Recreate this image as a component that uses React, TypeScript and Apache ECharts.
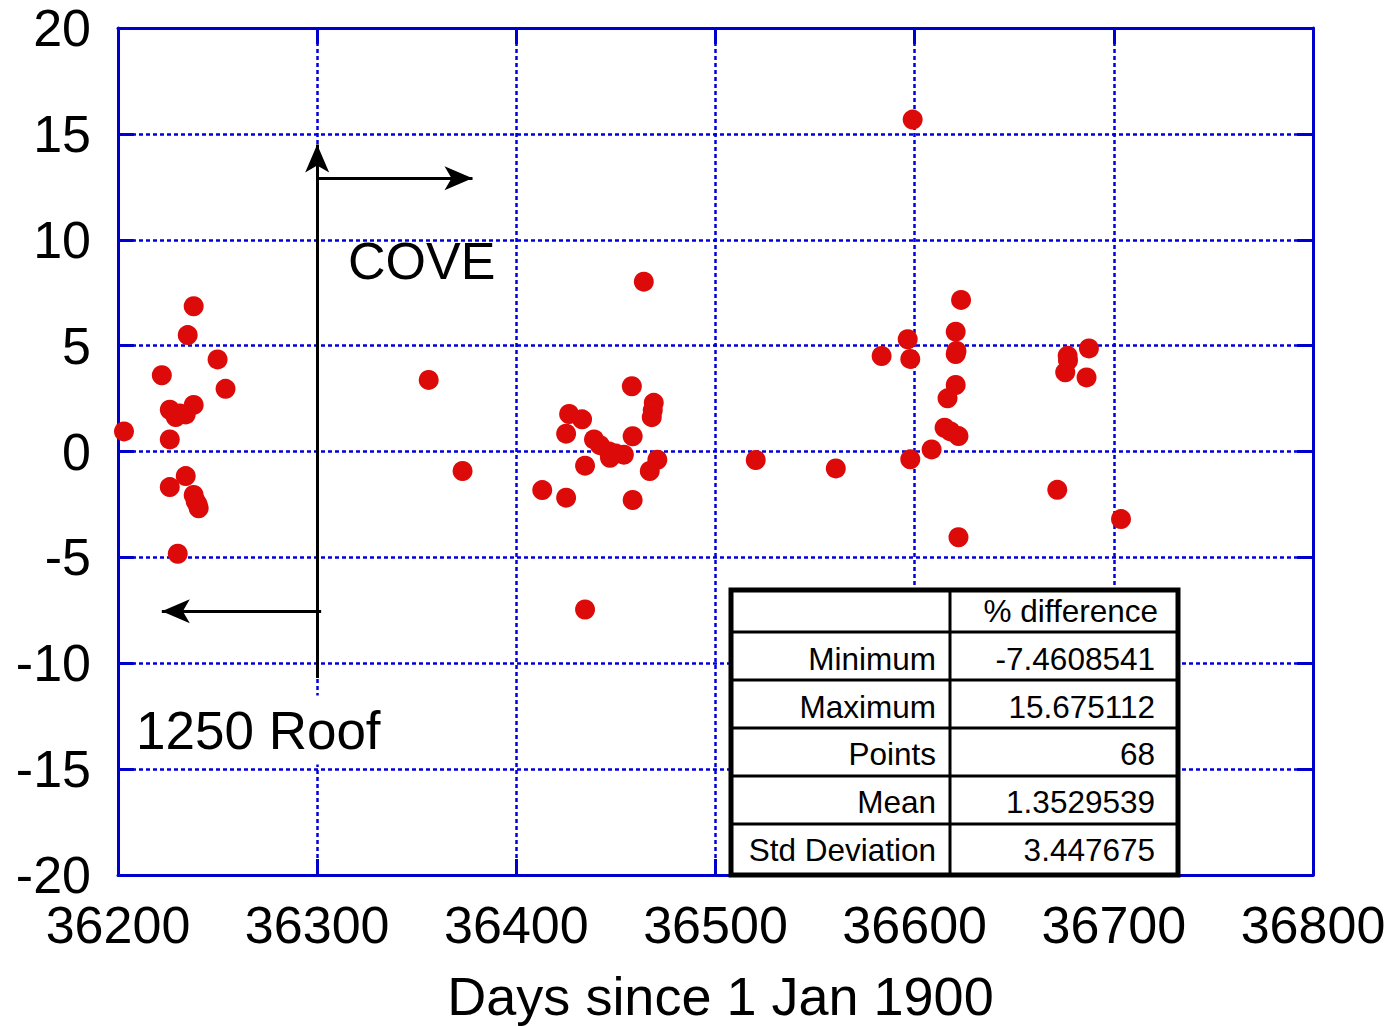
import React, { useEffect, useRef } from "react";
import * as echarts from "echarts";

// Days since 1 Jan 1900 and % difference for each measurement
const days: number[] = [
  36203, 36238, 36235, 36250, 36222, 36254, 36238, 36226, 36229, 36234, 36231,
  36226, 36234, 36226, 36238, 36239, 36240.5, 36240, 36230,
  36464, 36356, 36373, 36458, 36469, 36468.5, 36468, 36426.5, 36433, 36425,
  36439, 36442, 36446.5, 36447, 36454, 36450, 36458.4, 36434.5, 36470.8, 36467,
  36413, 36425, 36458.4, 36434.5,
  36599, 36623.3, 36620.6, 36596.5, 36620.6, 36583.4, 36597.8, 36620.6, 36616.5,
  36615, 36618, 36622, 36608.5, 36520.2, 36560.4, 36597.8, 36622, 36621,
  36687.5, 36676.8, 36675.6, 36686.3, 36671.6, 36703.6, 36677,
];
const pctDiff: number[] = [
  0.95, 6.86, 5.5, 4.35, 3.6, 2.96, 2.2, 1.97, 1.63, 1.75, 1.8,
  0.57, -1.16, -1.68, -2.05, -2.35, -2.68, -2.5, -4.83,
  8.02, 3.38, -0.92, 3.08, 2.3, 1.95, 1.62, 1.77, 1.52, 0.84,
  0.57, 0.3, 0.0, -0.3, -0.15, -0.1, 0.72, -0.67, -0.39, -0.92,
  -1.82, -2.18, -2.29, -7.4608541,
  15.675112, 7.16, 5.66, 5.3, 4.6, 4.51, 4.37, 3.14, 2.51,
  1.12, 0.95, 0.73, 0.1, -0.4, -0.8, -0.37, -4.05, 4.75,
  4.87, 4.52, 3.74, 3.5, -1.81, -3.19, 4.3,
];

const xMin = 36200;
const xMax = 36800;
const xStep = 100;
const yMin = -20;
const yMax = 20;
const yStep = 5;

const xAxisTitle = "Days since 1 Jan 1900";
const statHeader = "% difference";
const statLabels = ["Minimum", "Maximum", "Points", "Mean", "Std Deviation"];
const statValues = ["-7.4608541", "15.675112", "68", "1.3529539", "3.447675"];

// annotation arrows in data coordinates: [x1, y1, x2, y2]
const coveVertical = [36300, -10.7, 36300, 14.5];
const coveArrow = [36300, 12.9, 36378, 12.9];
const roofArrow = [36302, -7.55, 36222, -7.55];

const FONT = '"Liberation Sans", Arial, sans-serif';
const AXIS_BLUE = "#0000cc";
const GRID_BLUE = "#0000dd";

export default function App() {
  const ref = useRef<HTMLDivElement>(null);

  useEffect(() => {
    if (!ref.current) return;
    const chart = echarts.init(ref.current, undefined, { renderer: "svg" });

    const points = days.map((d, i) => [d, pctDiff[i]]);

    const arrowLine = (a: number[], startSym: string, endSym: string) => [
      { coord: [a[0], a[1]], symbol: startSym },
      { coord: [a[2], a[3]], symbol: endSym },
    ];

    // table geometry
    const tL = 731, tR = 1178, tT = 590, tB = 875, tDiv = 950;
    const rowLines = [632, 680, 728, 776, 824];
    const rowCenters = [611, 659, 707, 754, 802, 850];
    const tFont = `31.5px ${FONT}`;
    const tableEls: any[] = [
      {
        type: "rect",
        shape: { x: tL, y: tT, width: tR - tL, height: tB - tT },
        style: { fill: "#ffffff", stroke: "#000000", lineWidth: 5 },
        z: 100,
      },
      {
        type: "line",
        shape: { x1: tDiv, y1: tT, x2: tDiv, y2: tB },
        style: { stroke: "#000000", lineWidth: 3 },
        z: 101,
      },
      ...rowLines.map((y) => ({
        type: "line",
        shape: { x1: tL, y1: y, x2: tR, y2: y },
        style: { stroke: "#000000", lineWidth: 3 },
        z: 101,
      })),
      {
        type: "text",
        style: {
          text: statHeader,
          x: 1158,
          y: rowCenters[0],
          font: tFont,
          fill: "#000",
          textAlign: "right",
          textVerticalAlign: "middle",
        },
        z: 102,
      },
      ...statLabels.map((t, i) => ({
        type: "text",
        style: {
          text: t,
          x: 936,
          y: rowCenters[i + 1],
          font: tFont,
          fill: "#000",
          textAlign: "right",
          textVerticalAlign: "middle",
        },
        z: 102,
      })),
      ...statValues.map((t, i) => ({
        type: "text",
        style: {
          text: t,
          x: 1155,
          y: rowCenters[i + 1],
          font: tFont,
          fill: "#000",
          textAlign: "right",
          textVerticalAlign: "middle",
        },
        z: 102,
      })),
    ];

    const axisCommon = {
      axisLine: { show: true, onZero: false, lineStyle: { color: AXIS_BLUE, width: 3 } },
      axisTick: { show: true, inside: true, length: 16, lineStyle: { color: AXIS_BLUE, width: 3 } },
    };

    chart.setOption({
      animation: false,
      backgroundColor: "#ffffff",
      grid: {
        left: 118,
        top: 28,
        width: 1195,
        height: 847,
        containLabel: false,
        outerBoundsMode: "none",
      },
      xAxis: [
        {
          ...axisCommon,
          type: "value",
          position: "bottom",
          min: xMin,
          max: xMax,
          interval: xStep,
          name: xAxisTitle,
          nameLocation: "middle",
          nameGap: 94,
          nameTextStyle: { fontSize: 54, fontFamily: FONT, color: "#000", padding: [0, 0, 0, 10] },
          axisLabel: {
            fontSize: 52,
            fontFamily: FONT,
            color: "#000",
            margin: 31,
            lineHeight: 38,
            formatter: (v: number) => String(v),
          },
          splitLine: { show: true, lineStyle: { color: GRID_BLUE, width: 2.5, type: [4, 3] } },
        },
        {
          ...axisCommon,
          type: "value",
          position: "top",
          min: xMin,
          max: xMax,
          interval: xStep,
          axisLabel: { show: false },
          splitLine: { show: false },
        },
      ],
      yAxis: [
        {
          ...axisCommon,
          type: "value",
          position: "left",
          min: yMin,
          max: yMax,
          interval: yStep,
          axisLabel: {
            fontSize: 52,
            fontFamily: FONT,
            color: "#000",
            margin: 27,
            lineHeight: 36,
            formatter: (v: number) => String(v),
          },
          splitLine: { show: true, lineStyle: { color: GRID_BLUE, width: 2.5, type: [4, 3] } },
        },
        {
          ...axisCommon,
          type: "value",
          position: "right",
          min: yMin,
          max: yMax,
          interval: yStep,
          axisLabel: { show: false },
          splitLine: { show: false },
        },
      ],
      series: [
        {
          type: "scatter",
          data: points,
          symbol: "circle",
          symbolSize: 20,
          itemStyle: { color: "#dd0a0a", opacity: 1 },
          z: 5,
          markLine: {
            silent: true,
            symbolSize: [18, 28],
            label: { show: false },
            lineStyle: { color: "#000000", width: 3, type: "solid" },
            emphasis: { disabled: true },
            data: [
              arrowLine(coveVertical, "none", "arrow"),
              arrowLine(coveArrow, "none", "arrow"),
              arrowLine(roofArrow, "none", "arrow"),
            ],
          },
        },
      ],
      graphic: [
        {
          type: "text",
          style: {
            text: "COVE",
            x: 348,
            y: 261,
            font: `52px ${FONT}`,
            fill: "#000",
            textAlign: "left",
            textVerticalAlign: "middle",
          },
          z: 50,
        },
        {
          type: "text",
          style: {
            text: "1250 Roof",
            x: 132,
            y: 730,
            font: `53px ${FONT}`,
            fill: "#000",
            backgroundColor: "#ffffff",
            padding: [8, 4, 8, 4],
            textAlign: "left",
            textVerticalAlign: "middle",
          },
          z: 50,
        },
        ...tableEls,
      ],
    });

    return () => {
      chart.dispose();
    };
  }, []);

  return (
    <div
      ref={ref}
      style={{ position: "fixed", left: 0, top: 0, width: 1397, height: 1026, background: "#fff" }}
    />
  );
}
